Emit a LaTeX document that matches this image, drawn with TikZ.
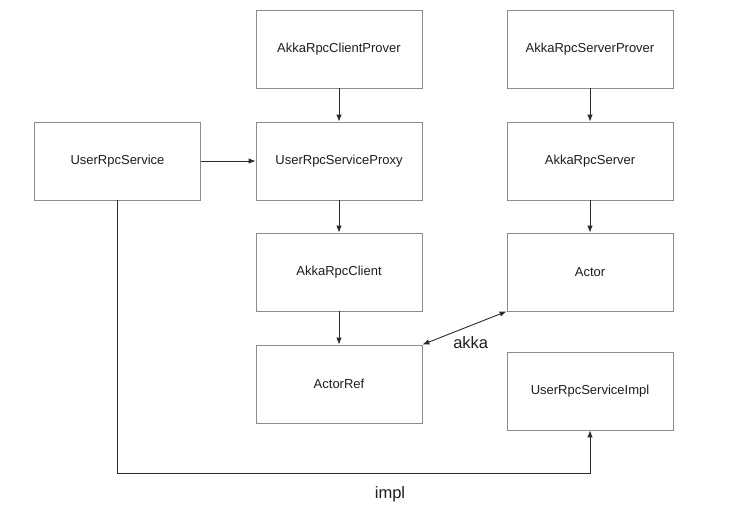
\documentclass[tikz,border=0pt]{standalone}
\usepackage{fontspec}
\setmainfont{Liberation Sans}
\usetikzlibrary{arrows.meta}
\definecolor{boxline}{HTML}{8C8C8C}
\definecolor{wire}{HTML}{2B2B2B}
\definecolor{ink}{HTML}{1E1E1E}
\begin{document}
\begin{tikzpicture}[x=1pt,y=-1pt,
  box/.style={draw=boxline,line width=0.8pt,rectangle,minimum width=166pt,minimum height=78pt,
    inner sep=0pt,font=\fontsize{13}{15}\selectfont,text=ink},
  tip/.tip={Latex[length=7pt,width=5.5pt]},
  link/.style={draw=wire,line width=0.9pt,-tip},
  duplex/.style={draw=wire,line width=0.9pt,tip-tip},
  tag/.style={font=\fontsize{16.5}{18}\selectfont,text=ink,inner sep=0pt}]
  \useasboundingbox[fill=white] (0,0) rectangle (742,519);

  % client side column
  \node[box] (cprov)  at (339,49)  {AkkaRpcClientProver};
  \node[box] (proxy)  at (339,161) {UserRpcServiceProxy};
  \node[box] (client) at (339,272) {AkkaRpcClient};
  \node[box] (aref)   at (339,384) {ActorRef};

  % user service
  \node[box] (urs)    at (117.5,161) {UserRpcService};

  % server side column
  \node[box] (sprov)  at (590,49)  {AkkaRpcServerProver};
  \node[box] (server) at (590,161) {AkkaRpcServer};
  \node[box] (actor)  at (590,272) {Actor};
  \node[box] (impl)   at (590,391) {UserRpcServiceImpl};

  % connectors
  \draw[link] (cprov) -- (proxy);
  \draw[link] (proxy) -- (client);
  \draw[link] (client) -- (aref);
  \draw[link] (urs) -- (proxy);
  \draw[link] (sprov) -- (server);
  \draw[link] (server) -- (actor);
  \draw[duplex] (aref.north east) -- (actor.south west);

  \coordinate (turn) at (impl.south |- 0,473);
  \draw[link] (urs.south) |- (turn) -- (impl.south);

  % labels
  \node[tag] (akkatag) at (470.7,343) {akka};
  \node[tag] (impltag) at (390,494) {impl};
\end{tikzpicture}
\end{document}
